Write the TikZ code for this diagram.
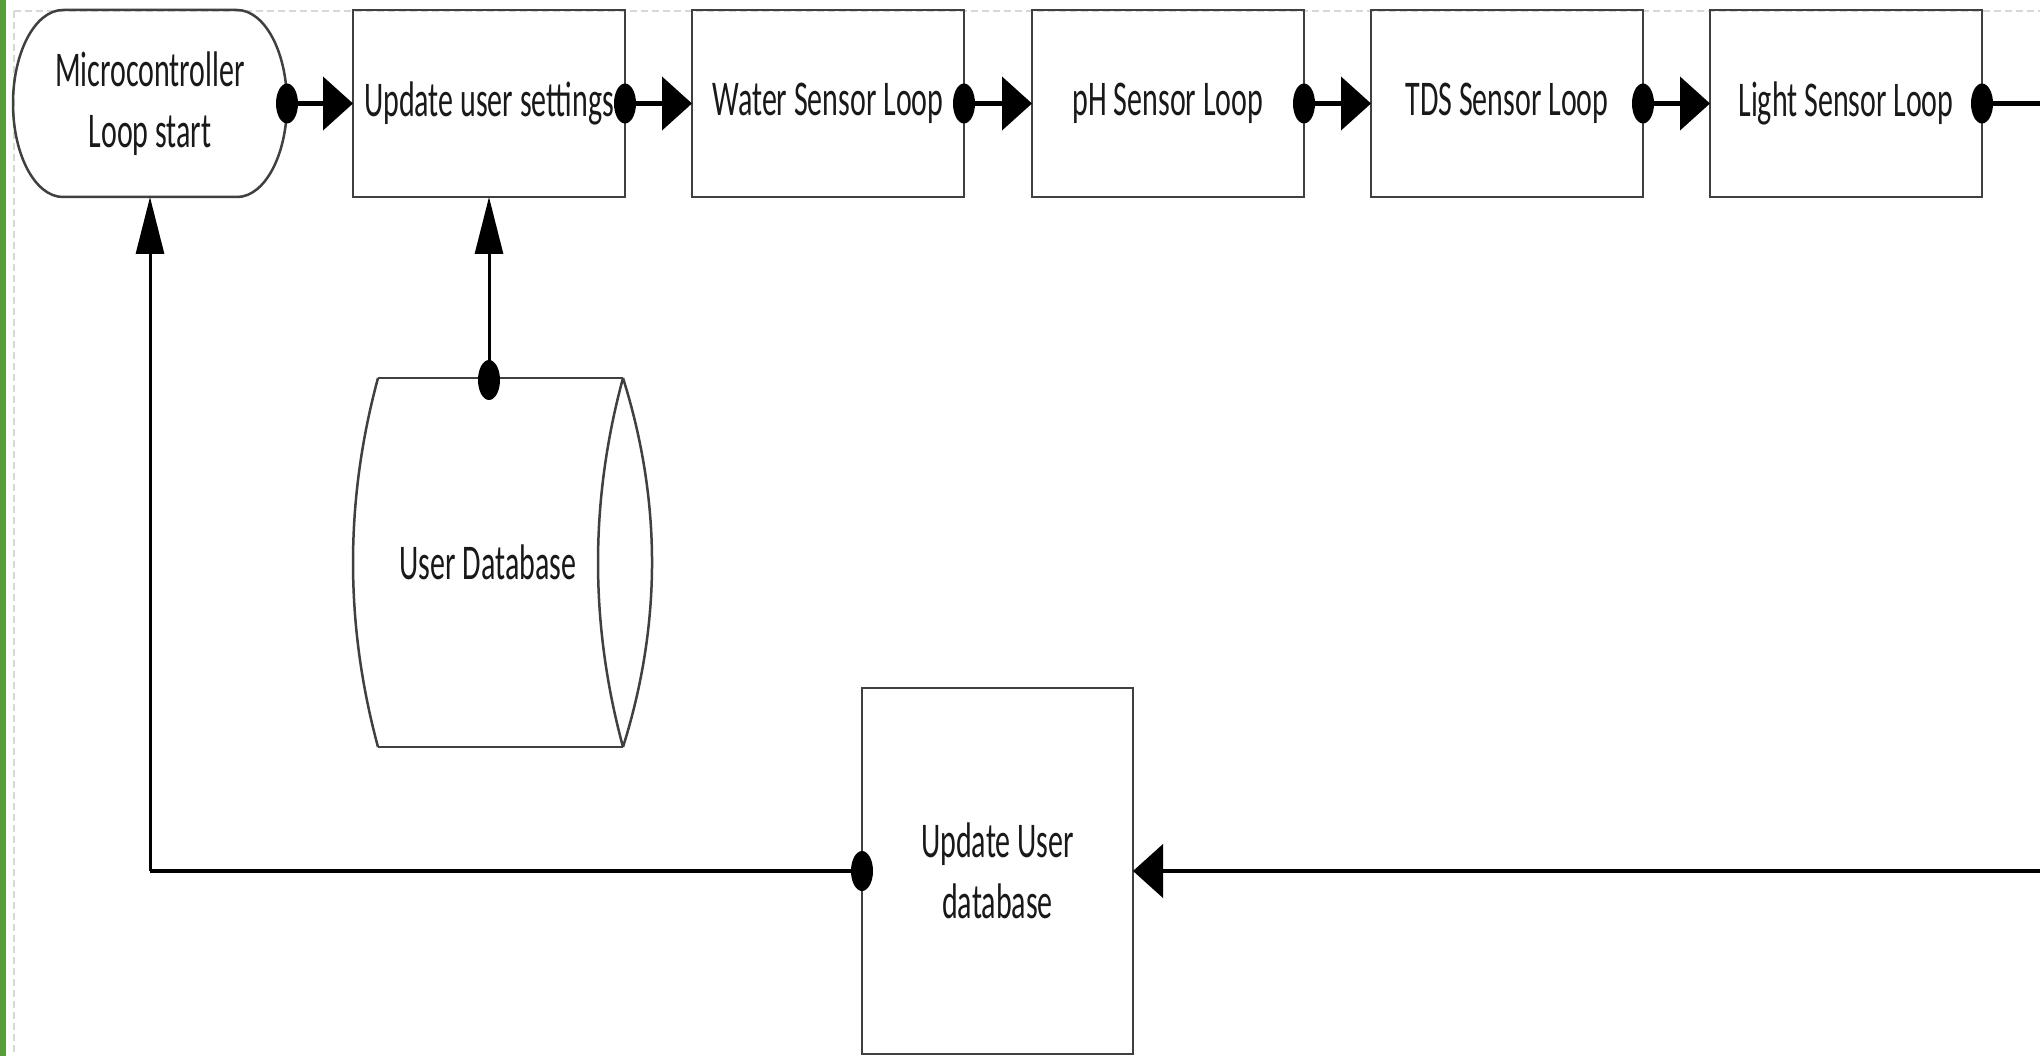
\documentclass[tikz,border=0pt]{standalone}
\usepackage{fontspec}
\setmainfont[FakeStretch=0.6]{Carlito}
\usetikzlibrary{arrows.meta}
\definecolor{boxgray}{RGB}{64,64,64}
\definecolor{greenbar}{RGB}{86,158,58}
\definecolor{pagegray}{RGB}{215,215,215}
\newcommand\diagfont{\fontsize{50pt}{61pt}\selectfont}
\newcommand\jdot[1]{\fill[black] (#1) ellipse[x radius=11pt,y radius=20pt];}
\tikzset{
  boxline/.style={draw=boxgray, line width=2.5pt},
  proc/.style={boxline, rectangle, minimum width=272pt, minimum height=187pt,
    outer sep=0pt, inner sep=0pt, align=center, font=\diagfont, text=black!90},
  conn/.style={draw=black, line width=4.5pt},
  vconn/.style={draw=black, line width=3pt},
  harrow/.style={-{Triangle[length=30pt,width=53pt]}},
  varrow/.style={-{Triangle[length=57pt,width=28pt]}},
}
\begin{document}
\begin{tikzpicture}[x=1pt,y=-1pt]
\useasboundingbox (0,0) rectangle (2040,1056);
\fill[white] (0,0) rectangle (2040,1056);
% page border
\draw[pagegray, line width=1.5pt, dash pattern=on 7pt off 4pt] (14,11) -- (2040,11);
\draw[pagegray, line width=1.5pt, dash pattern=on 7pt off 4pt] (14,11) -- (14,1056);
\fill[greenbar] (0,0) rectangle (6,1056);

% terminator
\node[proc, draw=none, minimum width=274pt] (start) at (150,103.5) {Microcontroller\\Loop start};
\draw[boxline] ([xshift=50pt]start.north west) -- ([xshift=-50pt]start.north east)
  arc[start angle=90,end angle=-90,x radius=50pt,y radius=93.5pt]
  -- ([xshift=50pt]start.south west)
  arc[start angle=270,end angle=90,x radius=50pt,y radius=93.5pt] -- cycle;

% process boxes
\node[proc] (settings) at (489,103.5) {Update user settings};
\node[proc] (water) at (828,103.5) {Water Sensor Loop};
\node[proc] (ph) at (1168,103.5) {pH Sensor Loop};
\node[proc] (tds) at (1507,103.5) {TDS Sensor Loop};
\node[proc] (light) at (1846,103.5) {Light Sensor Loop};
\node[proc, minimum width=271pt, minimum height=366pt] (upd) at (997.5,871) {Update User\\database};

% user database (direct access storage)
\node[inner sep=0pt, font=\diagfont, text=black!90] (db) at (488,562.5) {User Database};
\coordinate (dbtop) at (489,378);
\draw[boxline] (378,378) -- (623,378);
\draw[boxline] (378,747) -- (623,747);
\draw[boxline] (378,378) .. controls (344.7,501) and (344.7,624) .. (378,747);
\draw[boxline] (623,378) .. controls (589.7,501) and (589.7,624) .. (623,747);
\draw[boxline] (623,378) .. controls (661.7,501) and (661.7,624) .. (623,747);

% free ends
\coordinate (offR) at (2040,103.5);
\coordinate (inR) at (2040,871);
\coordinate (corner) at (150,871);

% connectors
\draw[conn,harrow] (start.east) -- (settings.west);
\draw[conn,harrow] (settings.east) -- (water.west);
\draw[conn,harrow] (water.east) -- (ph.west);
\draw[conn,harrow] (ph.east) -- (tds.west);
\draw[conn,harrow] (tds.east) -- (light.west);
\draw[conn] (light.east) -- (offR);
\draw[conn,harrow] (inR) -- (upd.east);
\draw[conn] (upd.west) -- (corner);
\draw[vconn,varrow] (corner) -- (start.south);
\draw[vconn,varrow] (dbtop) -- (settings.south);

% dots
\jdot{start.east}
\jdot{settings.east}
\jdot{water.east}
\jdot{ph.east}
\jdot{tds.east}
\jdot{light.east}
\jdot{upd.west}
\jdot{489,380}
\end{tikzpicture}
\end{document}
